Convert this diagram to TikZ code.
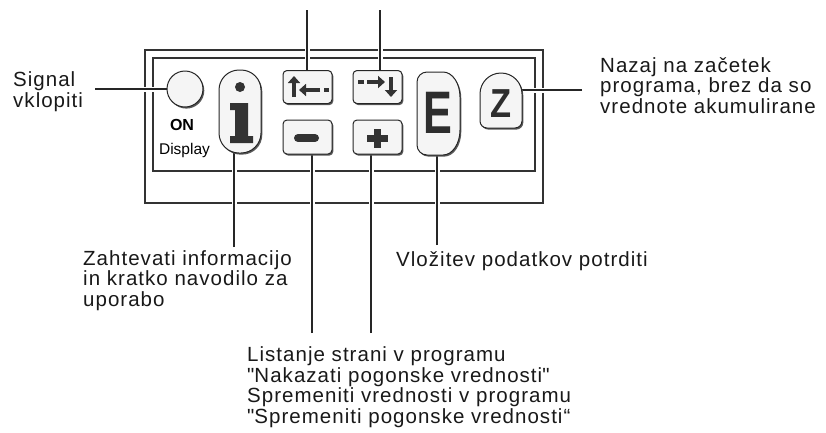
\documentclass[tikz,border=0pt]{standalone}
\usepackage{fontspec}
\usepackage{graphicx}
\setmainfont{Liberation Sans}[LetterSpace=5]
\newfontfamily\keyfont{Liberation Sans}
\usetikzlibrary{arrows.meta,shadows}
\begin{document}
\begin{tikzpicture}[x=1pt,y=-1pt,
  frame/.style={draw=black!80,line width=1.2pt},
  leader/.style={draw=black!85,line width=1.1pt,preaction={draw=white,line width=5pt}},
  key/.style={draw=black!85,line width=1pt,fill=gray!8,
     drop shadow={shadow xshift=1.3pt,shadow yshift=-1.6pt,fill=black!65,opacity=1}},
  keybox/.style={key,rectangle,rounded corners=4pt,inner sep=0pt,minimum width=49pt,minimum height=33pt},
  label/.style={anchor=base west,inner sep=0pt,align=left,font=\fontsize{20.5}{20.5}\selectfont,text=black!90},
  glyph/.style={fill=black!80},
  symline/.style={draw=black!80,line width=4.5pt},
  sym/.style={symline,-{Triangle[length=7pt,width=12pt]}}
]
\useasboundingbox (0,0) rectangle (826,432);
\fill[white] (0,0) rectangle (826,432);

% frames
\draw[frame] (145,50) rectangle (543,203);
\draw[frame] (153,58) rectangle (535,171);

% key anchor coordinates
\coordinate (Ekey) at (438,113);
\coordinate (Zkey) at (501,100);
\coordinate (onC) at (185,89);
\coordinate (iC) at (240,111.5);
\coordinate (upC) at (307.5,87);
\coordinate (dnC) at (377.5,87);
\coordinate (miC) at (307.5,137);
\coordinate (plC) at (377.5,137);

% leader free ends
\coordinate (sigE) at (95,89);
\coordinate (upE) at (307,10);
\coordinate (dnE) at (380,10);
\coordinate (iE) at (234,247);
\coordinate (miE) at (312,333);
\coordinate (plE) at (371,333);
\coordinate (eE) at (437,245);
\coordinate (zE) at (582,90);

% leaders
\draw[leader] (sigE) -- (onC);
\draw[leader] (upE) -- (upE |- upC);
\draw[leader] (dnE) -- (dnE |- dnC);
\draw[leader] (iE) -- (iE |- iC);
\draw[leader] (miE) -- (miE |- miC);
\draw[leader] (plE) -- (plE |- plC);
\draw[leader] (eE) -- (eE |- Ekey);
\draw[leader] (zE) -- (zE -| Zkey);

% keys
\node[key,circle,minimum size=36pt,inner sep=0pt] (on) at (onC) {};
\node[key,rectangle,rounded corners=20pt,minimum width=42pt,minimum height=83pt,inner sep=0pt] (ikey) at (iC) {};
\node[keybox] (up) at (upC) {};
\node[keybox] (dn) at (dnC) {};
\node[keybox,minimum height=34pt] (mi) at (miC) {};
\node[keybox,minimum height=34pt] (pl) at (plC) {};
\path[key] (417,82) arc[start angle=180,end angle=270,radius=10] -- (443,72)
  arc[start angle=270,end angle=360,x radius=17,y radius=25] -- (460,130)
  arc[start angle=0,end angle=90,x radius=17,y radius=25] -- (427,155)
  arc[start angle=90,end angle=180,radius=10] -- cycle;
\path[key] (480,94) arc[start angle=180,end angle=360,radius=21] -- (522,121)
  arc[start angle=0,end angle=90,radius=7] -- (487,128)
  arc[start angle=90,end angle=180,radius=7] -- cycle;

% key symbols
\fill[glyph] (240,87) circle (5);
\fill[glyph] (230,103) -- (248,103) -- (248,136) -- (253,136) -- (253,143) -- (230,143)
  -- (230,136) -- (235,136) -- (235,110) -- (230,110) -- cycle;
\draw[sym] (294,97) -- (294,76);
\draw[sym] (320,90) -- (299,90);
\draw[symline] (324,90) -- (329,90);
\draw[symline] (358,82) -- (364,82);
\draw[sym] (367,82) -- (385,82);
\draw[sym] (391,77) -- (391,97);
\draw[symline,line width=8pt,line cap=round] (298,138) -- (315,138);
\draw[symline,line width=7pt] (367,138) -- (388,138);
\draw[symline,line width=7pt] (377.5,129) -- (377.5,148);
\node[inner sep=0pt,text=black!82] (Eglyph) at (Ekey) {\scalebox{0.72}[1]{\keyfont\bfseries\fontsize{60}{60}\selectfont E}};
\node[inner sep=0pt,text=black!82] (Zglyph) at (501.5,103.5) {\scalebox{0.85}[1]{\keyfont\bfseries\fontsize{40.5}{40.5}\selectfont Z}};

% ON / Display
\node[anchor=base,inner sep=0pt,font=\keyfont\fontsize{16}{16}\selectfont\bfseries] (ontext) at (182,130) {ON};
\node[anchor=base,inner sep=0pt,font=\keyfont\fontsize{15.5}{15.5}\selectfont] (disp) at (184.5,154) {Display};

% labels (anchored at the baseline of their last line)
\node[label] (sig) at (13,107) {Signal\\vklopiti};
\node[label] (naz) at (600,113) {Nazaj na začetek\\programa, brez da so\\vrednote akumulirane};
\node[label] (zah) at (83,306) {Zahtevati informacijo\\in kratko navodilo za\\uporabo};
\node[label] (vlo) at (396,266) {Vložitev podatkov potrditi};
\node[label] (lis) at (247,423) {Listanje strani v programu\\\textquotedbl Nakazati pogonske vrednosti\textquotedbl\\Spremeniti vrednosti v programu\\\textquotedbl Spremeniti pogonske vrednosti“};
\end{tikzpicture}
\end{document}
